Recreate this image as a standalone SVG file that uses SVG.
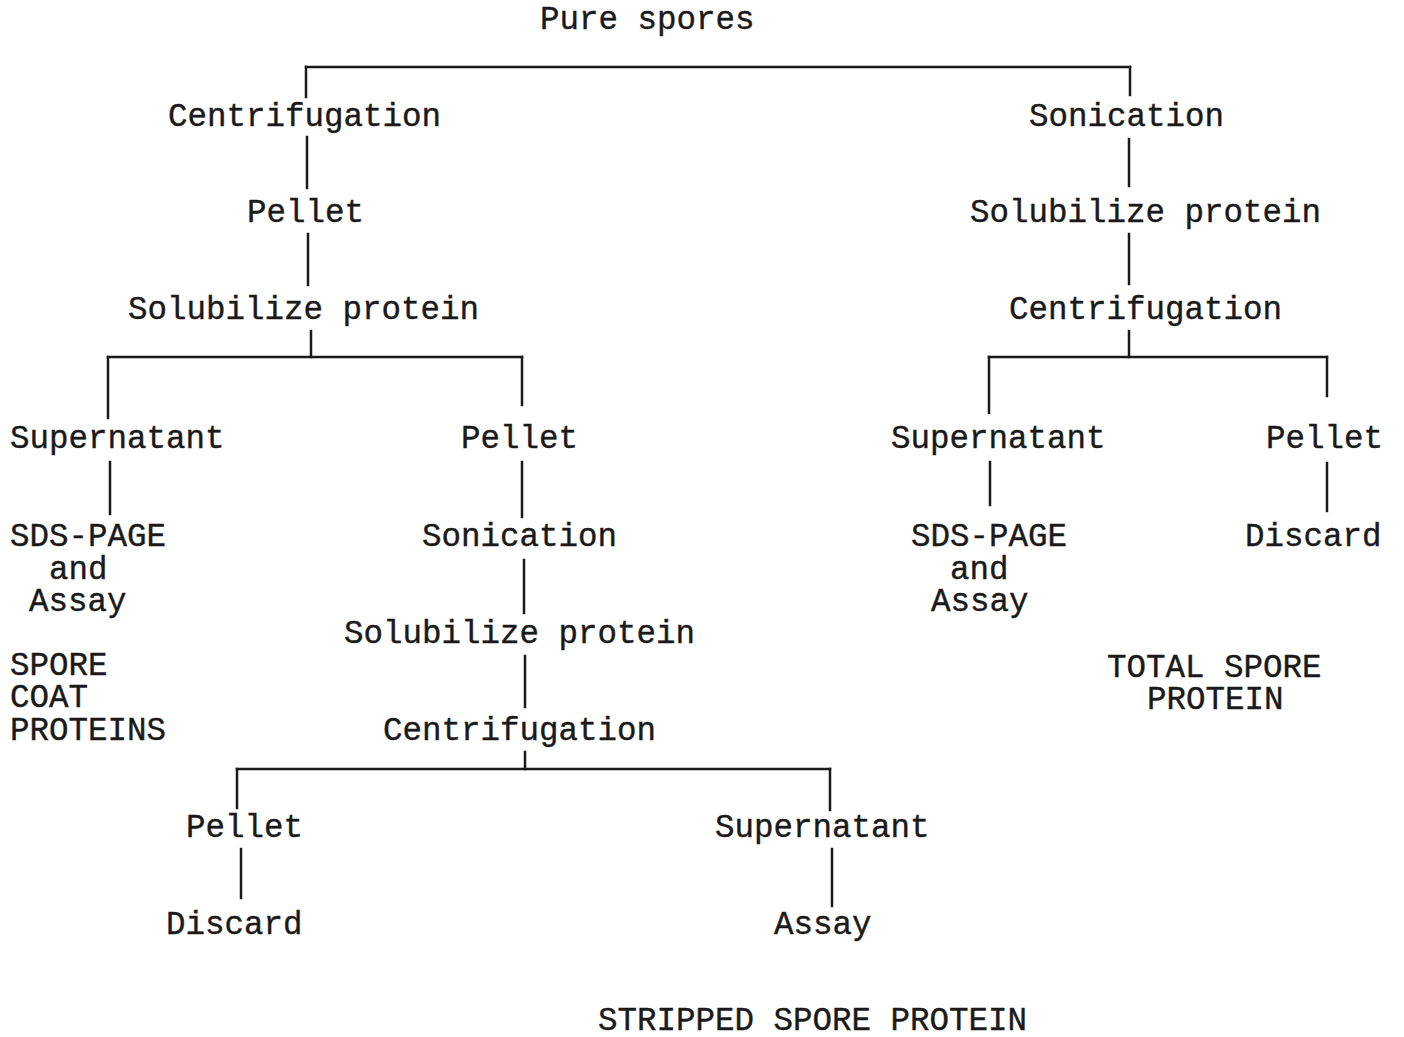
<svg xmlns="http://www.w3.org/2000/svg" width="1404" height="1037" viewBox="0 0 1404 1037">
<style>
text{font-family:"Liberation Mono","Courier New",monospace;font-size:32.5px;fill:#1a1a1a;stroke:#1a1a1a;stroke-width:0.4px}
.c line{stroke:#1a1a1a;stroke-width:2.5;stroke-linecap:square}
</style>
<rect width="1404" height="1037" fill="#fff"/>
<g class="c" id="connectors">
<line x1="306" y1="67" x2="1130" y2="67"/>
<line x1="306" y1="67" x2="306" y2="97"/>
<line x1="1130" y1="67" x2="1130" y2="95"/>
<line x1="307" y1="137" x2="307" y2="188"/>
<line x1="308" y1="234" x2="308" y2="285"/>
<line x1="311" y1="331" x2="311" y2="357"/>
<line x1="108" y1="357" x2="522" y2="357"/>
<line x1="108" y1="357" x2="108" y2="418"/>
<line x1="522" y1="357" x2="522" y2="405"/>
<line x1="110" y1="462" x2="110" y2="514"/>
<line x1="522" y1="462" x2="522" y2="517"/>
<line x1="524" y1="560" x2="524" y2="613"/>
<line x1="525" y1="656" x2="525" y2="707"/>
<line x1="525" y1="752" x2="525" y2="769"/>
<line x1="237" y1="769" x2="830" y2="769"/>
<line x1="237" y1="769" x2="237" y2="808"/>
<line x1="830" y1="769" x2="830" y2="810"/>
<line x1="241" y1="849" x2="241" y2="898"/>
<line x1="832" y1="849" x2="832" y2="906"/>
<line x1="1129" y1="139" x2="1129" y2="186"/>
<line x1="1129" y1="234" x2="1129" y2="284"/>
<line x1="1129" y1="331" x2="1129" y2="357"/>
<line x1="989" y1="357" x2="1327" y2="357"/>
<line x1="989" y1="357" x2="989" y2="413"/>
<line x1="1327" y1="357" x2="1327" y2="396"/>
<line x1="990" y1="462" x2="990" y2="505"/>
<line x1="1327" y1="463" x2="1327" y2="511"/>
</g>
<g id="n-pure"><text x="540" y="29">Pure spores</text></g>
<g id="n-centrif-l"><text x="168" y="126">Centrifugation</text></g>
<g id="n-pellet-l"><text x="247" y="222">Pellet</text></g>
<g id="n-solub-l"><text x="128" y="319">Solubilize protein</text></g>
<g id="n-super-l"><text x="10" y="448">Supernatant</text></g>
<g id="n-pellet-m"><text x="461" y="448">Pellet</text></g>
<g id="n-sds-l"><text x="10" y="546">SDS-PAGE</text><text x="49" y="579">and</text><text x="29" y="611">Assay</text></g>
<g id="n-coat"><text x="10" y="675">SPORE</text><text x="10" y="707">COAT</text><text x="10" y="740">PROTEINS</text></g>
<g id="n-sonic-m"><text x="422" y="546">Sonication</text></g>
<g id="n-solub-m"><text x="344" y="643">Solubilize protein</text></g>
<g id="n-centrif-m"><text x="383" y="740">Centrifugation</text></g>
<g id="n-pellet-b"><text x="186" y="837">Pellet</text></g>
<g id="n-discard-b"><text x="166" y="934">Discard</text></g>
<g id="n-super-b"><text x="715" y="837">Supernatant</text></g>
<g id="n-assay-b"><text x="774" y="934">Assay</text></g>
<g id="n-stripped"><text x="598" y="1030">STRIPPED SPORE PROTEIN</text></g>
<g id="n-sonic-r"><text x="1029" y="126">Sonication</text></g>
<g id="n-solub-r"><text x="970" y="222">Solubilize protein</text></g>
<g id="n-centrif-r"><text x="1009" y="319">Centrifugation</text></g>
<g id="n-super-r"><text x="891" y="448">Supernatant</text></g>
<g id="n-pellet-r"><text x="1266" y="448">Pellet</text></g>
<g id="n-sds-r"><text x="911" y="546">SDS-PAGE</text><text x="950" y="579">and</text><text x="931" y="611">Assay</text></g>
<g id="n-discard-r"><text x="1245" y="546">Discard</text></g>
<g id="n-total"><text x="1107" y="677">TOTAL SPORE</text><text x="1147" y="709">PROTEIN</text></g>
</svg>
